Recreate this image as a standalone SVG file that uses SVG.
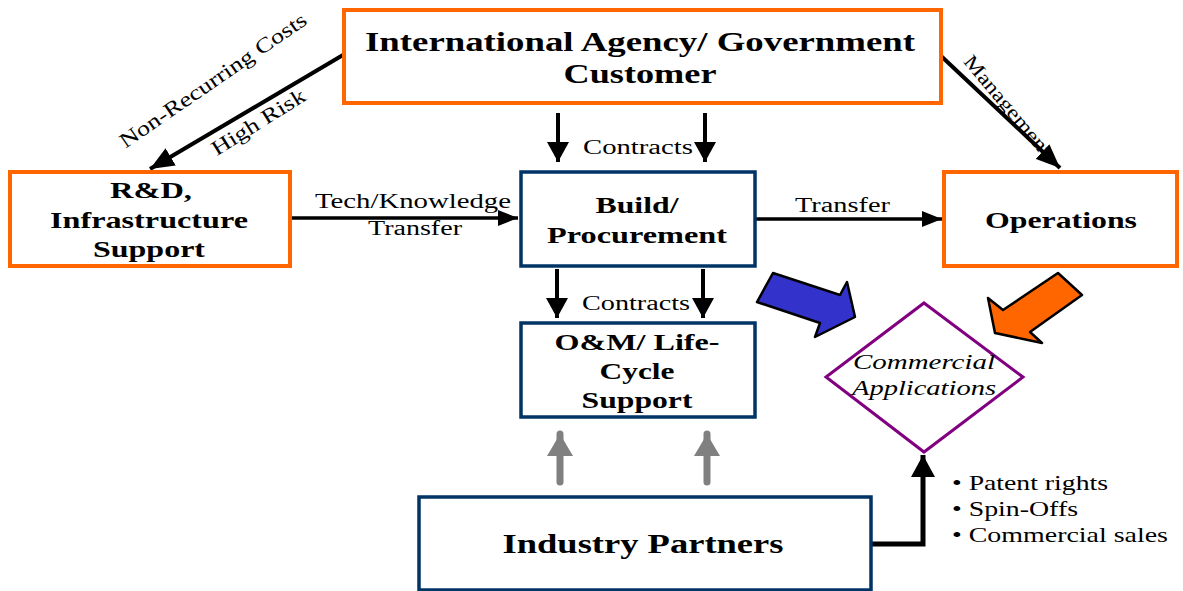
<svg xmlns="http://www.w3.org/2000/svg" width="1183" height="591" viewBox="0 0 1183 591">
<style>
.ob{fill:#fff;stroke:#FF6600;stroke-width:4}
.nb{fill:#fff;stroke:#003366;stroke-width:3.5}
.t{font-family:"Liberation Serif","Times New Roman",serif;fill:#000}
.b{font-weight:bold;text-anchor:middle}
.l{font-size:20px}
.c{stroke:#000;fill:none}
</style>
<defs>
<marker id="ah" markerUnits="userSpaceOnUse" markerWidth="20" markerHeight="16" refX="20" refY="8" orient="auto"><path d="M0,0 L20,8 L0,16 z" fill="#000"/></marker>
<marker id="ahc" markerUnits="userSpaceOnUse" markerWidth="20" markerHeight="22" refX="20" refY="11" orient="auto"><path d="M0,0 L20,11 L0,22 z" fill="#000"/></marker>
<marker id="ahd" markerUnits="userSpaceOnUse" markerWidth="24" markerHeight="20" refX="24" refY="10" orient="auto"><path d="M0,0 L24,10 L0,20 z" fill="#000"/></marker>
<marker id="ahg" markerUnits="userSpaceOnUse" markerWidth="22" markerHeight="26" refX="22" refY="13" orient="auto"><path d="M0,0 L22,13 L0,26 z" fill="#808080"/></marker>
<marker id="ahi" markerUnits="userSpaceOnUse" markerWidth="22" markerHeight="24" refX="22" refY="12" orient="auto"><path d="M0,0 L22,12 L0,24 z" fill="#000"/></marker>
</defs>

<g id="connectors">
<line class="c" x1="343" y1="55" x2="150" y2="169" stroke-width="4" marker-end="url(#ahd)"/>
<line class="c" x1="940" y1="55" x2="1060" y2="168" stroke-width="4" marker-end="url(#ahd)"/>
<line class="c" x1="558" y1="113" x2="558" y2="162" stroke-width="4" marker-end="url(#ahc)"/>
<line class="c" x1="705" y1="113" x2="705" y2="162" stroke-width="4" marker-end="url(#ahc)"/>
<line class="c" x1="557" y1="269" x2="557" y2="318" stroke-width="4" marker-end="url(#ahc)"/>
<line class="c" x1="703" y1="269" x2="703" y2="318" stroke-width="4" marker-end="url(#ahc)"/>
<line class="c" x1="290" y1="218" x2="518" y2="218" stroke-width="3.5" marker-end="url(#ah)"/>
<line class="c" x1="756" y1="219" x2="942" y2="219" stroke-width="3.5" marker-end="url(#ah)"/>
<line x1="560" y1="482" x2="560" y2="434" stroke="#808080" stroke-width="7" stroke-linecap="round" marker-end="url(#ahg)"/>
<line x1="707" y1="482" x2="707" y2="434" stroke="#808080" stroke-width="7" stroke-linecap="round" marker-end="url(#ahg)"/>
<polyline class="c" points="871,544 923,544 923,455" stroke-width="5" marker-end="url(#ahi)"/>
<polygon points="757,302 773,273 840,295 847,282 855,317 815,337 820,323" fill="#3333CC" stroke="#000" stroke-width="2.5" stroke-linejoin="round"/>
<polygon points="1058,273 1082,295 1030,332 1042,343 995,333 988,298 1003,310" fill="#FF6600" stroke="#000" stroke-width="2.5" stroke-linejoin="round"/>
<text class="t" font-size="21" text-anchor="middle" textLength="222" lengthAdjust="spacingAndGlyphs" transform="translate(217,86) rotate(-34.5)">Non-Recurring Costs</text>
<text class="t" font-size="21" text-anchor="middle" textLength="107" lengthAdjust="spacingAndGlyphs" transform="translate(262,128) rotate(-32)">High Risk</text>
<text class="t" font-size="20" text-anchor="middle" textLength="125" lengthAdjust="spacingAndGlyphs" transform="translate(1003,110) rotate(50)">Management</text>
<text class="t l" x="583" y="154" textLength="110" lengthAdjust="spacingAndGlyphs">Contracts</text>
<text class="t l" x="582" y="310" textLength="108" lengthAdjust="spacingAndGlyphs">Contracts</text>
<text class="t l" x="315" y="208" textLength="196" lengthAdjust="spacingAndGlyphs">Tech/Knowledge</text>
<text class="t l" x="368" y="235" textLength="94" lengthAdjust="spacingAndGlyphs">Transfer</text>
<text class="t l" x="795" y="212" textLength="95" lengthAdjust="spacingAndGlyphs">Transfer</text>
</g>

<g id="customer">
<rect class="ob" x="344" y="10" width="597" height="93"/>
<text class="t b" font-size="28" x="640" y="51" textLength="550" lengthAdjust="spacingAndGlyphs">International Agency/ Government</text>
<text class="t b" font-size="28" x="640" y="83" textLength="153" lengthAdjust="spacingAndGlyphs">Customer</text>
</g>

<g id="rnd">
<rect class="ob" x="10" y="172" width="280" height="94"/>
<text class="t b" font-size="23" x="151" y="198" textLength="82" lengthAdjust="spacingAndGlyphs">R&amp;D,</text>
<text class="t b" font-size="23" x="149" y="228" textLength="198" lengthAdjust="spacingAndGlyphs">Infrastructure</text>
<text class="t b" font-size="23" x="149" y="257" textLength="112" lengthAdjust="spacingAndGlyphs">Support</text>
</g>

<g id="build">
<rect class="nb" x="521" y="172" width="234" height="94"/>
<text class="t b" font-size="23" x="637" y="213" textLength="83" lengthAdjust="spacingAndGlyphs">Build/</text>
<text class="t b" font-size="23" x="637" y="243" textLength="180" lengthAdjust="spacingAndGlyphs">Procurement</text>
</g>

<g id="operations">
<rect class="ob" x="944" y="172" width="233" height="94"/>
<text class="t b" font-size="24" x="1061" y="228" textLength="152" lengthAdjust="spacingAndGlyphs">Operations</text>
</g>

<g id="om">
<rect class="nb" x="521" y="323" width="234" height="94"/>
<text class="t b" font-size="23" x="637" y="350" textLength="165" lengthAdjust="spacingAndGlyphs">O&amp;M/ Life-</text>
<text class="t b" font-size="23" x="637" y="379" textLength="75" lengthAdjust="spacingAndGlyphs">Cycle</text>
<text class="t b" font-size="23" x="637" y="408" textLength="111" lengthAdjust="spacingAndGlyphs">Support</text>
</g>

<g id="industry">
<rect class="nb" x="419" y="497" width="452" height="93"/>
<text class="t b" font-size="27" x="643" y="553" textLength="281" lengthAdjust="spacingAndGlyphs">Industry Partners</text>
</g>

<g id="commercial">
<polygon points="924,303 1023,377 924,452 826,377" fill="#fff" stroke="#800080" stroke-width="3"/>
<text class="t" font-size="21" font-style="italic" text-anchor="middle" x="924" y="369" textLength="142" lengthAdjust="spacingAndGlyphs">Commercial</text>
<text class="t" font-size="21" font-style="italic" text-anchor="middle" x="924" y="395" textLength="144" lengthAdjust="spacingAndGlyphs">Applications</text>
</g>

<g id="benefits">
<text class="t" font-size="22" x="952" y="490" textLength="156" lengthAdjust="spacingAndGlyphs">• Patent rights</text>
<text class="t" font-size="22" x="952" y="516" textLength="126" lengthAdjust="spacingAndGlyphs">• Spin-Offs</text>
<text class="t" font-size="22" x="952" y="542" textLength="216" lengthAdjust="spacingAndGlyphs">• Commercial sales</text>
</g>
</svg>
